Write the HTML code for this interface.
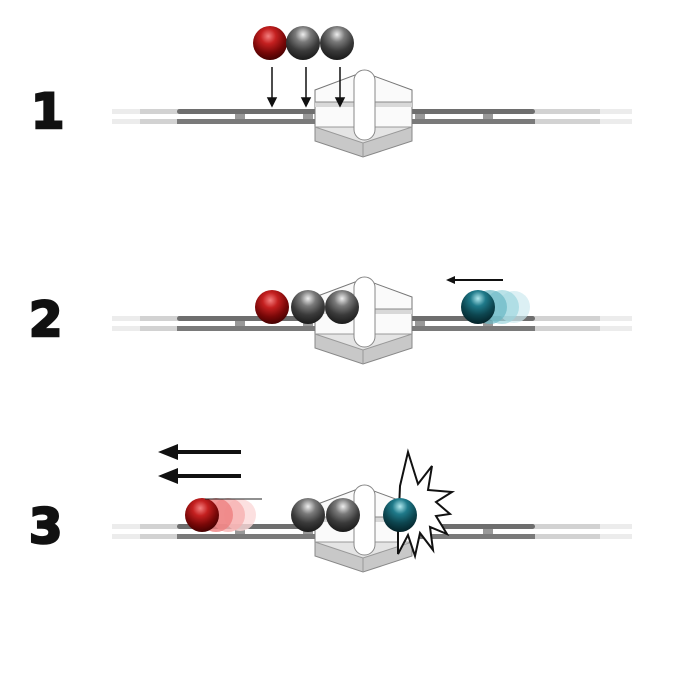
<!DOCTYPE html>
<html><head><style>
html,body{margin:0;padding:0;background:#fff;width:700px;height:700px;overflow:hidden}
.n{position:absolute;font-family:"DejaVu Sans","Liberation Sans",sans-serif;font-weight:900;font-size:48px;color:#111;-webkit-text-stroke:2.5px #111}
</style></head><body>
<div class="n" style="left:31px;top:84px">1</div>
<div class="n" style="left:29px;top:292px">2</div>
<div class="n" style="left:29px;top:499px">3</div>
<svg width="700" height="700" style="position:absolute;left:0;top:0">
<defs>
<radialGradient id="red" cx="0.45" cy="0.3" r="0.75"><stop offset="0" stop-color="#f48080"/><stop offset="0.3" stop-color="#c42020"/><stop offset="0.65" stop-color="#7a0808"/><stop offset="1" stop-color="#3a0000"/></radialGradient>
<radialGradient id="gry" cx="0.5" cy="0.25" r="0.75"><stop offset="0" stop-color="#eee"/><stop offset="0.3" stop-color="#7a7a7a"/><stop offset="0.65" stop-color="#3a3a3a"/><stop offset="1" stop-color="#1a1a1a"/></radialGradient>
<radialGradient id="tea" cx="0.5" cy="0.25" r="0.75"><stop offset="0" stop-color="#b0e8ee"/><stop offset="0.3" stop-color="#1f7a8a"/><stop offset="0.65" stop-color="#0d4650"/><stop offset="1" stop-color="#042228"/></radialGradient>
<g id="track">
 <rect x="112" y="-6" width="520" height="5" fill="#ececec"/>
 <rect x="112" y="4" width="520" height="5" fill="#ececec"/>
 <rect x="140" y="-6" width="460" height="5" fill="#d2d2d2"/>
 <rect x="140" y="4" width="460" height="5" fill="#d2d2d2"/>
 <rect x="177" y="-6" width="150" height="5" rx="2.5" fill="#6e6e6e"/>
 <rect x="177" y="4" width="150" height="5" fill="#7a7a7a"/>
 <rect x="400" y="-6" width="135" height="5" rx="2.5" fill="#6e6e6e"/>
 <rect x="400" y="4" width="135" height="5" fill="#7a7a7a"/>
 <rect x="235" y="-1" width="10" height="5" fill="#999"/>
 <rect x="303" y="-1" width="10" height="5" fill="#999"/>
 <rect x="415" y="-1" width="10" height="5" fill="#999"/>
 <rect x="483" y="-1" width="10" height="5" fill="#999"/>
</g>
<g id="dev">
 <polygon points="315,-25 363,-43 412,-25 412,12 315,12" fill="#fafafa" stroke="#777" stroke-width="1"/>
 <rect x="315" y="-13" width="97" height="5" fill="#d8d8d8"/>
 <line x1="315" y1="-13" x2="412" y2="-13" stroke="#888"/>
 <polygon points="315,12 412,12 412,26 363,42 315,26" fill="#c8c8c8" stroke="#888"/>
 <polygon points="315,12 363,28 412,12" fill="#e4e4e4" stroke="#999"/>
 <line x1="363" y1="28" x2="363" y2="42" stroke="#999"/>
 <rect x="354" y="-45" width="21" height="70" rx="10.5" fill="#fff" stroke="#888"/>
</g>
</defs>
<g transform="translate(0,115)"><use href="#track"/><use href="#dev"/></g>
<circle cx="270" cy="43" r="17" fill="url(#red)"/>
<circle cx="303" cy="43" r="17" fill="url(#gry)"/>
<circle cx="337" cy="43" r="17" fill="url(#gry)"/>
<g stroke="#111" stroke-width="1.5" fill="#111">
<line x1="272" y1="67" x2="272" y2="100"/><polygon points="268,98 276,98 272,106"/>
<line x1="306" y1="67" x2="306" y2="100"/><polygon points="302,98 310,98 306,106"/>
<line x1="340" y1="67" x2="340" y2="100"/><polygon points="336,98 344,98 340,106"/>
</g>
<g transform="translate(0,322)"><use href="#track"/><use href="#dev"/></g>
<circle cx="272" cy="307" r="17" fill="url(#red)"/>
<circle cx="308" cy="307" r="17" fill="url(#gry)"/>
<circle cx="342" cy="307" r="17" fill="url(#gry)"/>
<circle cx="514" cy="307" r="16" fill="#cdeaef" opacity="0.7"/>
<circle cx="502" cy="307" r="17" fill="#9dd5de" opacity="0.7"/>
<circle cx="490" cy="307" r="17" fill="#6ab8c4" opacity="0.7"/>
<circle cx="478" cy="307" r="17" fill="url(#tea)"/>
<line x1="452" y1="280" x2="503" y2="280" stroke="#111" stroke-width="2"/>
<polygon points="446,280 455,276 455,284" fill="#111"/>
<g transform="translate(0,530)"><use href="#track"/><use href="#dev"/></g>
<circle cx="240" cy="515" r="16" fill="#fbd8d8" opacity="0.8"/>
<circle cx="228" cy="515" r="17" fill="#f6b0b0" opacity="0.8"/>
<circle cx="216" cy="515" r="17" fill="#ee8080" opacity="0.8"/>
<circle cx="202" cy="515" r="17" fill="url(#red)"/>
<line x1="205" y1="499" x2="262" y2="499" stroke="#222" stroke-width="1"/>
<circle cx="308" cy="515" r="17" fill="url(#gry)"/>
<circle cx="343" cy="515" r="17" fill="url(#gry)"/>
<polygon points="400,486 408,452 418,484 432,466 428,490 452,492 436,502 450,514 436,516 447,534 430,527 433,550 420,533 415,556 408,535 398,554 398,532" fill="#fff" stroke="#111" stroke-width="2" stroke-linejoin="miter"/>
<circle cx="400" cy="515" r="17" fill="url(#tea)"/>
<g fill="#111">
<rect x="172" y="450" width="69" height="4"/><polygon points="158,452 178,444 178,460"/>
<rect x="172" y="474" width="69" height="4"/><polygon points="158,476 178,468 178,484"/>
</g>
</svg>
</body></html>
